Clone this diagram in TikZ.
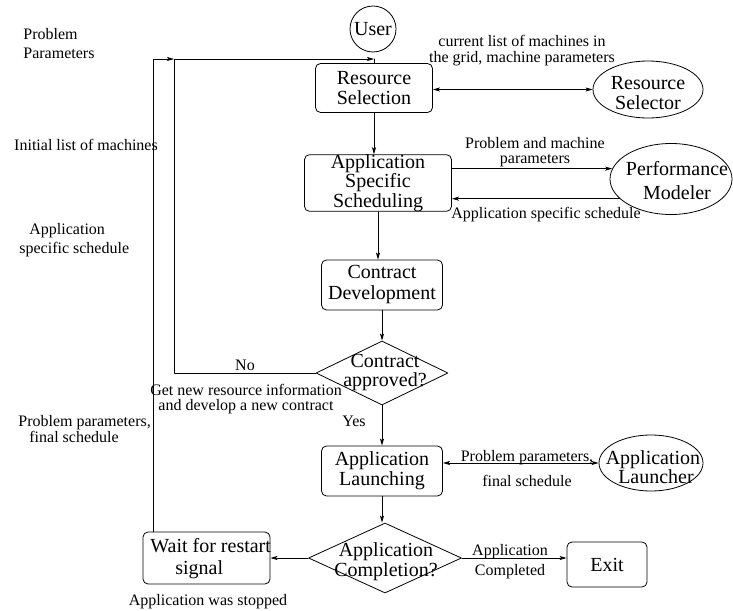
\documentclass[tikz,border=0pt]{standalone}
\usepackage{fontspec}
\setmainfont{Liberation Serif}
\usetikzlibrary{shapes.geometric,arrows.meta}

\begin{document}
\begin{tikzpicture}[x=1bp,y=-1bp,line cap=round,line join=round,line width=.8bp,
  >={Stealth[length=7bp,width=4bp,inset=1.5bp]},
  box/.style={draw,rounded corners=5bp,inner sep=0pt,align=center,font=\fontsize{20bp}{20bp}\selectfont},
  oval/.style={draw,ellipse,inner sep=0pt},
  cond/.style={draw,diamond,inner sep=0pt},
  big/.style={align=center,inner sep=0pt,font=\fontsize{20bp}{20bp}\selectfont},
  lbl/.style={align=center,inner sep=0pt,font=\fontsize{16bp}{16bp}\selectfont}]
\useasboundingbox (0,0) rectangle (733,611);
\node[draw,circle,minimum size=46bp,inner sep=0pt,font=\fontsize{20bp}{20bp}\selectfont] (user) at (373,29) {User};
\node[box,minimum width=117bp,minimum height=49bp] (rsel) at (374,88) {Resource\\Selection};
\node[oval,minimum width=110bp,minimum height=57bp] (rselr) at (648,89.5) {};
\node[big] (rselrtxt) at (648,93) {Resource\\Selector};
\node[box,minimum width=147bp,minimum height=55bp,font=\fontsize{20bp}{15.5bp}\selectfont] (ass) at (378,183) {Application\\Specific\\Scheduling};
\node[oval,minimum width=122bp,minimum height=71bp] (perf) at (671,179) {};
\node[big] (perftxt) at (677,181) {Performance\\[4bp]Modeler};
\node[box,minimum width=121bp,minimum height=50bp,font=\fontsize{20bp}{21bp}\selectfont] (cdev) at (382,285) {Contract\\Development};
\node[cond,minimum width=132bp,minimum height=64bp] (appr) at (382,373) {};
\node[big,font=\fontsize{20bp}{19bp}\selectfont] (apprtxt) at (385,373) {Contract\\approved?};
\node[box,minimum width=121bp,minimum height=50bp] (launch) at (382,471) {Application\\Launching};
\node[oval,minimum width=104bp,minimum height=56bp] (lnch) at (651,463) {};
\node[big,font=\fontsize{20bp}{15bp}\selectfont] (lnchtxt) at (653,467.5) {Application\\\hspace*{6bp}Launcher};
\node[cond,minimum width=153bp,minimum height=70bp] (done) at (385,558) {};
\node[big] (donetxt) at (386,562) {Application\\Completion?};
\node[box,minimum width=127bp,minimum height=52bp] (wait) at (206.5,558) {};
\node[big,align=left,anchor=west,font=\fontsize{20bp}{22bp}\selectfont] (waittxt) at (150,559) {Wait for restart\\\hspace*{25bp}signal};
\node[box,minimum width=80bp,minimum height=45bp] (exit) at (607,564.5) {Exit};
\node[lbl,align=left,anchor=west,font=\fontsize{16bp}{19bp}\selectfont] (pp) at (23,43.5) {Problem\\Parameters};
\node[lbl] (ilm) at (86,145) {Initial list of machines};
\node[lbl,align=left,anchor=west,font=\fontsize{16bp}{19bp}\selectfont] (ass2) at (19,240.5) {\hspace*{10bp}Application\\specific schedule};
\node[lbl,align=left,anchor=west,font=\fontsize{16bp}{14.5bp}\selectfont] (ppfs) at (18,429) {Problem parameters,\\\hspace*{11bp}final schedule};
\node[lbl] (clm) at (522,51) {current list of machines in\\the grid, machine parameters};
\node[lbl,font=\fontsize{16bp}{15bp}\selectfont] (pmp) at (535,152.5) {Problem and machine\\parameters};
\node[lbl] (assl) at (546,215) {Application specific schedule};
\node[lbl] (no) at (245,365) {No};
\node[lbl,font=\fontsize{16bp}{15bp}\selectfont] (getnew) at (246,399.5) {Get new resource information\\and develop a new contract};
\node[lbl] (yes) at (354,421) {Yes};
\node[lbl,font=\fontsize{16bp}{25bp}\selectfont] (ppl) at (527,468.5) {Problem parameters,\\final schedule};
\node[lbl,font=\fontsize{16bp}{20bp}\selectfont] (ac) at (510,562) {Application\\Completed};
\node[lbl] (stopped) at (208,602) {Application was stopped};
\coordinate (jn) at (174,59);
\draw[->] (rsel.south) -- (rsel.south |- ass.north);
\draw[<->] (rsel.east |- rselr.west) -- (rselr.west);
\draw[->] (ass.east |- perf.170) -- (perf.170);
\draw[->] (perf.201) -- (perf.201 -| ass.east);
\draw[->] (ass.south) -- (ass.south |- cdev.north);
\draw[->] (cdev.south) -- (appr.north);
\draw[->] (appr.south) -- (launch.north);
\draw[<->] (launch.east |- lnch.west) -- (lnch.west);
\draw[->] (launch.south) -- (launch.south |- done.north);
\draw[->] (done.east) -- (done.east -| exit.west);
\draw[->] (done.west) -- (done.west -| wait.east);
\draw[->] (appr.west) -| (jn) -- (jn -| rsel.north);
\draw (jn -| rsel.north) -- (rsel.north);
\draw[->] ([xshift=11bp]wait.north west) |- (jn);
\end{tikzpicture}
\end{document}
